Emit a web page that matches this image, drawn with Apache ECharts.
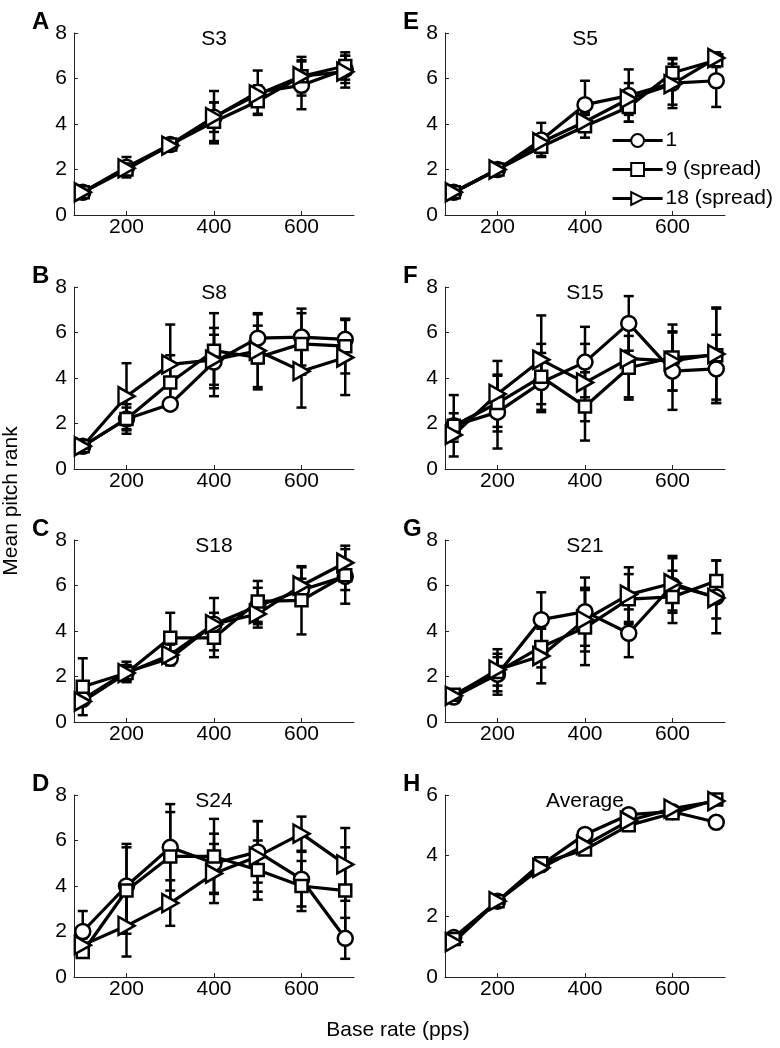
<!DOCTYPE html>
<html>
<head>
<meta charset="utf-8">
<script src="https://cdn.jsdelivr.net/npm/echarts@6/dist/echarts.min.js"></script>
<style>
  html, body { margin: 0; padding: 0; background: #fff; }
  #chart { width: 780px; height: 1048px; }
</style>
</head>
<body>
<div id="chart"></div>
<script>
// base rates (pps)
const rates = [100, 200, 300, 400, 500, 600, 700]
const xTicks = [200, 400, 600]
const seriesNames = ['1', '9 (spread)', '18 (spread)']

const panelLetters = ['A', 'B', 'C', 'D', 'E', 'F', 'G', 'H']
const panelTitles = ['S3', 'S8', 'S18', 'S24', 'S5', 'S15', 'S21', 'Average']

// mean pitch rank, rows: 1 / 9 (spread) / 18 (spread)
const meanS3 = [
  [1.0, 2.1, 3.1, 4.3, 5.4, 5.7, 6.4],
  [1.0, 2.0, 3.1, 4.1, 5.0, 6.1, 6.55],
  [1.0, 2.05, 3.05, 4.3, 5.3, 6.1, 6.3]
]
const errS3 = [
  [0.05, 0.45, 0.2, 0.65, 0.95, 1.05, 0.6],
  [0.05, 0.2, 0.2, 0.85, 0.6, 0.85, 0.6],
  [0.05, 0.3, 0.2, 1.15, 0.4, 0.7, 0.7]
]
const meanS8 = [
  [1.0, 2.2, 2.85, 4.7, 5.75, 5.8, 5.7],
  [1.0, 2.2, 3.8, 5.2, 4.9, 5.5, 5.4],
  [1.0, 3.2, 4.6, 4.8, 5.2, 4.3, 4.9]
]
const errS8 = [
  [0.05, 0.5, 0.15, 1.5, 1.1, 1.25, 0.9],
  [0.05, 0.65, 1.2, 1.65, 1.4, 1.35, 1.2],
  [0.05, 1.45, 1.75, 1.1, 1.6, 1.6, 1.65]
]
const meanS18 = [
  [1.0, 2.2, 2.8, 4.3, 5.1, 5.8, 6.4],
  [1.55, 2.15, 3.7, 3.7, 5.3, 5.35, 6.45],
  [0.9, 2.15, 2.95, 4.3, 4.75, 6.0, 7.0]
]
const errS18 = [
  [0.1, 0.45, 0.3, 1.15, 0.8, 0.5, 1.2],
  [1.25, 0.35, 1.1, 0.85, 0.9, 1.5, 0.65],
  [0.1, 0.35, 0.45, 0.5, 0.6, 0.8, 0.75]
]
const meanS24 = [
  [2.0, 4.0, 5.7, 5.0, 5.5, 4.3, 1.7],
  [1.1, 3.8, 5.3, 5.3, 4.7, 4.0, 3.8],
  [1.4, 2.25, 3.25, 4.55, 5.3, 6.3, 4.95]
]
const errS24 = [
  [0.9, 1.85, 1.9, 1.3, 1.35, 1.2, 0.9],
  [0.1, 1.9, 1.95, 1.65, 1.3, 1.1, 1.9],
  [0.3, 1.35, 1.0, 1.3, 1.55, 0.75, 1.6]
]
const meanS5 = [
  [1.0, 2.0, 3.3, 4.85, 5.25, 5.8, 5.9],
  [1.0, 2.0, 3.0, 3.9, 4.75, 6.25, 6.8],
  [1.0, 2.0, 3.2, 4.1, 5.1, 5.75, 6.9]
]
const errS5 = [
  [0.05, 0.05, 0.75, 1.05, 1.15, 1.1, 1.15],
  [0.05, 0.05, 0.4, 0.5, 0.65, 0.6, 0.3],
  [0.05, 0.05, 0.3, 0.4, 0.7, 0.9, 0.25]
]
const meanS15 = [
  [1.9, 2.5, 3.8, 4.7, 6.4, 4.3, 4.4],
  [1.9, 2.9, 4.05, 2.75, 4.45, 4.9, 5.0],
  [1.5, 3.3, 4.8, 3.8, 4.85, 4.75, 5.05]
]
const errS15 = [
  [0.55, 1.6, 1.3, 1.55, 1.2, 1.7, 1.5],
  [1.35, 1.25, 1.45, 1.5, 1.4, 1.45, 2.1],
  [0.3, 1.45, 1.95, 1.7, 1.7, 1.3, 2.0]
]
const meanS21 = [
  [1.1, 2.1, 4.5, 4.85, 3.9, 6.0, 5.5],
  [1.2, 2.2, 3.3, 4.15, 5.4, 5.5, 6.2],
  [1.15, 2.3, 2.9, 4.5, 5.6, 6.1, 5.45]
]
const errS21 = [
  [0.1, 0.75, 1.2, 1.5, 1.05, 1.2, 1.6],
  [0.1, 1.0, 0.9, 1.65, 1.1, 1.15, 0.9],
  [0.1, 0.7, 1.2, 1.4, 1.2, 1.2, 0.9]
]
const meanAvg = [
  [1.3, 2.5, 3.7, 4.7, 5.35, 5.45, 5.1],
  [1.25, 2.5, 3.75, 4.2, 5.0, 5.4, 5.85],
  [1.15, 2.5, 3.6, 4.35, 5.15, 5.55, 5.8]
]

const panelMeans = [meanS3, meanS8, meanS18, meanS24, meanS5, meanS15, meanS21, meanAvg]
const panelErrs = [errS3, errS8, errS18, errS24, errS5, errS15, errS21, null]
const panelYMax = [8, 8, 8, 8, 8, 8, 8, 6]

const FONT = '"Liberation Sans", Arial, Helvetica, sans-serif'
const symbols = ['circle', 'rect', 'path://M0,0L10,6L0,12Z']
const symbolSizes = [15, 12, [16, 18]]

const chart = echarts.init(document.getElementById('chart'))

const grids = [], xAxes = [], yAxes = [], series = [], graphics = []
const gridLefts = [74, 445]
const gridTops = [33, 287, 540, 795]

for (let p = 0; p < 8; p++) {
  const col = Math.floor(p / 4), row = p % 4
  const left = gridLefts[col], top = gridTops[row]
  grids.push({ left: left, top: top, width: 280, height: 182 })
  xAxes.push({
    type: 'value', gridIndex: p, min: 80, max: 720,
    splitLine: { show: false },
    axisLine: { lineStyle: { color: '#222', width: 1 } },
    axisTick: { inside: true, length: 4, customValues: xTicks, lineStyle: { color: '#222' } },
    axisLabel: { customValues: xTicks, color: '#000', fontSize: 21, fontFamily: FONT, margin: 2 }
  })
  yAxes.push({
    type: 'value', gridIndex: p, min: 0, max: panelYMax[p], interval: 2,
    splitLine: { show: false },
    axisLine: { show: true, lineStyle: { color: '#222', width: 1 } },
    axisTick: { show: true, inside: true, length: 4, lineStyle: { color: '#222' } },
    axisLabel: { color: '#000', fontSize: 21, fontFamily: FONT, margin: 7 }
  })

  // panel letter and title
  graphics.push({
    type: 'text', x: left - 42, y: top - 23,
    style: { text: panelLetters[p], font: 'bold 24px ' + FONT, fill: '#000' }
  })
  graphics.push({
    type: 'text', x: left + 140, y: top + 6,
    style: { text: panelTitles[p], font: '21px ' + FONT, fill: '#000', textAlign: 'center', textVerticalAlign: 'middle' }
  })

  const means = panelMeans[p], errs = panelErrs[p]
  for (let s = 0; s < 3; s++) {
    if (errs) {
      const barData = rates.map((r, i) => [r, means[s][i] - errs[s][i], means[s][i] + errs[s][i]])
      series.push({
        type: 'custom', xAxisIndex: p, yAxisIndex: p, silent: true,
        data: barData,
        encode: { x: 0, y: [1, 2] },
        renderItem: function (params, api) {
          const lo = api.coord([api.value(0), api.value(1)])
          const hi = api.coord([api.value(0), api.value(2)])
          const st = { stroke: '#000', lineWidth: 2.5 }
          return {
            type: 'group', children: [
              { type: 'line', shape: { x1: lo[0], y1: lo[1], x2: hi[0], y2: hi[1] }, style: st },
              { type: 'line', shape: { x1: lo[0] - 5, y1: lo[1], x2: lo[0] + 5, y2: lo[1] }, style: st },
              { type: 'line', shape: { x1: hi[0] - 5, y1: hi[1], x2: hi[0] + 5, y2: hi[1] }, style: st }
            ]
          }
        }
      })
    }
    series.push({
      name: seriesNames[s], type: 'line', xAxisIndex: p, yAxisIndex: p,
      data: rates.map((r, i) => [r, means[s][i]]),
      symbol: symbols[s], symbolSize: symbolSizes[s], showAllSymbol: true,
      lineStyle: { color: '#000', width: 3.2 },
      itemStyle: { color: '#fff', borderColor: '#000', borderWidth: 2.5 },
      emphasis: { disabled: true },
      animation: false
    })
  }
}

// axis titles
graphics.push({
  type: 'text', x: 11, y: 501, rotation: Math.PI / 2,
  style: { text: 'Mean pitch rank', font: '21px ' + FONT, fill: '#000', textAlign: 'center', textVerticalAlign: 'middle' }
})
graphics.push({
  type: 'text', x: 398, y: 1030,
  style: { text: 'Base rate (pps)', font: '21px ' + FONT, fill: '#000', textAlign: 'center', textVerticalAlign: 'middle' }
})

chart.setOption({
  animation: false,
  grid: grids,
  xAxis: xAxes,
  yAxis: yAxes,
  legend: {
    data: seriesNames, orient: 'vertical', left: 611, top: 130,
    itemWidth: 50, itemHeight: 16, itemGap: 8, padding: 0,
    selectedMode: false,
    lineStyle: { color: '#000', width: 3.2 },
    itemStyle: { color: '#fff', borderColor: '#000', borderWidth: 2 },
    textStyle: { fontSize: 21, fontFamily: FONT, color: '#000', padding: [0, 0, 0, -2] }
  },
  graphic: graphics,
  series: series
})
</script>
</body>
</html>
